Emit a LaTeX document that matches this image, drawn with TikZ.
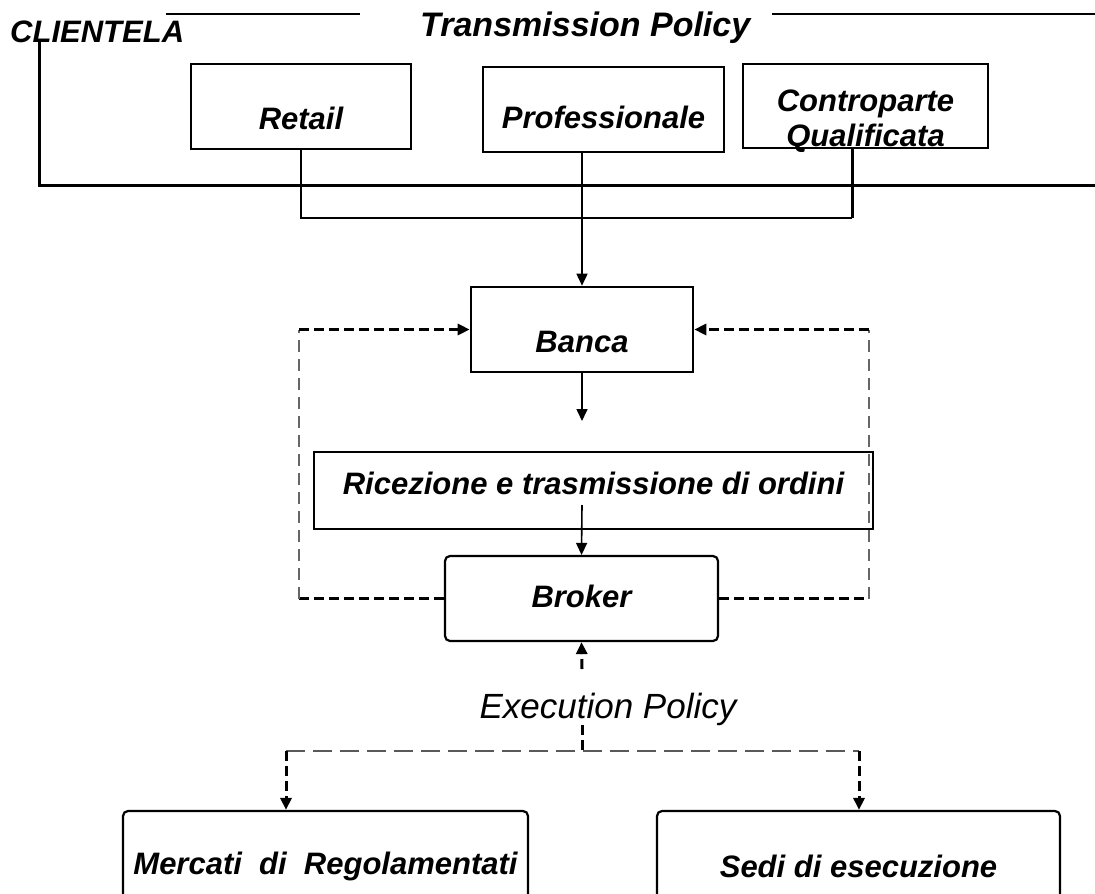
\documentclass[tikz,border=0pt]{standalone}
\usepackage{fontspec}
\setmainfont{Liberation Sans}
\usetikzlibrary{arrows.meta}
\newcommand\bif{\fontsize{31}{35}\selectfont\bfseries\itshape}
\begin{document}
\begin{tikzpicture}[x=1pt,y=-1pt,
  box/.style={draw, line width=2.6pt, inner sep=0pt, font=\bif, text height=#1, text depth=0pt},
  box/.default=22pt,
  rbox/.style={box=#1, rounded corners=5pt, line width=2.2pt},
  rbox/.default=22pt,
  freetext/.style={inner sep=0pt, font=\bif},
  conn/.style={line width=1.6pt},
  arr/.style={-{Triangle[length=12pt,width=11pt]}},
  tdash/.style={line width=3pt, dash pattern=on 10pt off 5pt},
  gdash/.style={line width=1.3pt, draw=black!60, dash pattern=on 12pt off 7pt},
  hdash/.style={line width=2pt, draw=black!65, dash pattern=on 19pt off 8pt}]
\useasboundingbox (0,0) rectangle (1095,894);
\fill[white] (0,0) rectangle (1095,894);
\clip (0,0) rectangle (1095,894);

% titles
\node[freetext, anchor=base west] (cli) at (10,42) {CLIENTELA};
\node[freetext, anchor=base west, font=\fontsize{34}{38}\selectfont\bfseries\itshape] (tp) at (420,36) {Transmission Policy};
\coordinate (tl1) at (166,14);
\coordinate (tl2) at (360,14);
\coordinate (tr1) at (772,14);
\coordinate (tr2) at (1095,14);
\draw[line width=2.5pt] (tl1) -- (tl2);
\draw[line width=2.5pt] (tr1) -- (tr2);

% CLIENTELA bracket
\coordinate (bk1) at (39,42);
\coordinate (bk2) at (1095,185);
\draw[line width=3pt] (bk1) |- (bk2);

% client boxes
\node[box=45pt, minimum width=220pt, minimum height=85pt] (retail) at (301,106.5) {Retail};
\node[box=37pt, minimum width=241pt, minimum height=85pt] (prof) at (603.5,109.5) {Professionale};
\node[box=45pt, minimum width=245pt, minimum height=84pt] (contr) at (865.5,106) {\begin{tabular}{@{}c@{}}Controparte\\Qualificata\end{tabular}};

% collecting connector
\coordinate (cq) at (852,218);
\draw[conn] (retail.south) |- (cq);
\draw[line width=3pt] (cq |- contr.south) -- (cq);

% Banca
\node[box=45pt, minimum width=222pt, minimum height=85pt] (banca) at (582,329.5) {Banca};
\draw[conn, arr] (banca.north |- prof.south) -- (banca.north);
\coordinate (bout) at (582,421);
\draw[conn, arr] (banca.south) -- (bout);

% Ricezione
\node[box=7pt, minimum width=559pt, minimum height=77pt] (ric) at (593.5,490.5) {Ricezione e trasmissione di ordini};

% Broker
\node[rbox=17pt, minimum width=273pt, minimum height=85pt] (broker) at (581.5,598.5) {Broker};
\coordinate (rin) at (582,505);
\draw[conn, arr] (rin) -- (broker.north);

% feedback loops
\coordinate (lb) at (299,598.5);
\coordinate (lt) at (299,329.5);
\coordinate (rb) at (869,598.5);
\coordinate (rt) at (869,329.5);
\draw[tdash] (broker.west) -- (lb);
\draw[gdash] (lb) -- (lt);
\draw[tdash, arr] (lt) -- (banca.west);
\draw[tdash] (broker.east) -- (rb);
\draw[gdash] (rb) -- (rt);
\draw[tdash, arr] (rt) -- (banca.east);

% Execution policy
\node[inner sep=0pt, anchor=base, font=\fontsize{35}{40}\selectfont\itshape] (ep) at (608,718) {Execution Policy};
\coordinate (epu) at (582,669);
\draw[tdash, arr] (epu) -- (broker.south);

% venues
\node[rbox=18pt, minimum width=405pt, minimum height=108pt] (merc) at (325.5,865) {Mercati\ \ di\ \ Regolamentati};
\node[rbox=24pt, minimum width=403pt, minimum height=108pt] (sedi) at (858.5,865) {Sedi di esecuzione};
\coordinate (ept) at (582,725);
\coordinate (junc) at (582,751);
\coordinate (jl) at (286,751);
\coordinate (jr) at (859,751);
\draw[tdash] (ept) -- (junc);
\draw[hdash] (jl) -- (jr);
\draw[tdash, arr] (jl) -- (jl |- merc.north);
\draw[tdash, arr] (jr) -- (jr |- sedi.north);
\end{tikzpicture}
\end{document}
